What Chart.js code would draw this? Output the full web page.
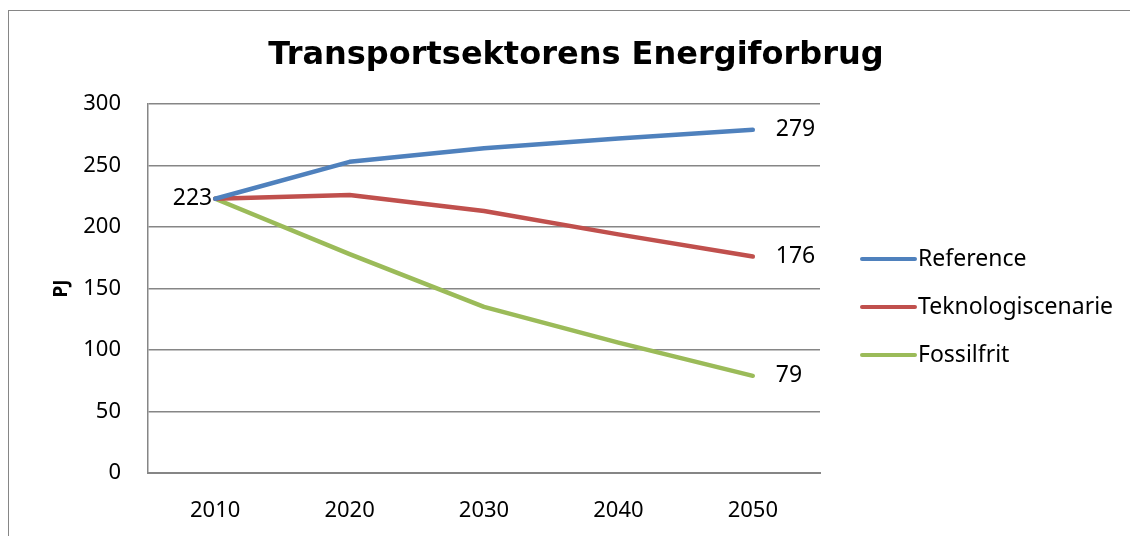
<!DOCTYPE html>
<html>
<head>
<meta charset="utf-8">
<script src="https://cdn.jsdelivr.net/npm/chart.js@4"></script>
<style>
  html, body { margin: 0; padding: 0; background: #fff; }
  #wrap { position: relative; width: 1130px; height: 536px; }
</style>
</head>
<body>
<div id="wrap"><canvas id="my-chart" width="1130" height="536"></canvas></div>
<script>
'use strict';

let years = ['2010', '2020', '2030', '2040', '2050'];
let seriesNames = ['Reference', 'Teknologiscenarie', 'Fossilfrit'];
let referenceValues = [223, 253, 264, 272, 279];
let teknologiValues = [223, 226, 213, 194, 176];
let fossilValues = [223, 178, 135, 106, 79];
let seriesColors = ['#4F81BD', '#C0504D', '#9BBB59'];
let chartTitle = 'Transportsektorens Energiforbrug';

let canvasElem = document.getElementById('my-chart');
let labelFont = '23px "Noto Sans"';

// box round the whole chart, title, value labels and legend on the right
let extrasPlugin = {
  id: 'extras',
  beforeDraw(chart) {
    let ctx = chart.ctx;
    ctx.save();
    ctx.strokeStyle = '#868686';
    ctx.lineWidth = 1;
    ctx.strokeRect(8.5, 10.5, 1200, 600);

    // title centred on the whole box, not just the plot
    ctx.font = 'bold 32px "DejaVu Sans"';
    ctx.fillStyle = '#000';
    ctx.textAlign = 'center';
    ctx.textBaseline = 'middle';
    ctx.fillText(chartTitle, 576, 56);
    ctx.restore();
  },
  afterDatasetsDraw(chart) {
    let ctx = chart.ctx;
    ctx.save();
    ctx.font = labelFont;
    ctx.fillStyle = '#000';
    ctx.textBaseline = 'middle';

    // first value on the left of the Reference line
    let first = chart.getDatasetMeta(0).data[0];
    ctx.textAlign = 'right';
    ctx.fillText(String(referenceValues[0]), first.x - 3, first.y);

    // last values on the right
    ctx.textAlign = 'left';
    chart.data.datasets.forEach(function (ds, i) {
      let pts = chart.getDatasetMeta(i).data;
      let last = pts[pts.length - 1];
      ctx.fillText(String(ds.data[ds.data.length - 1]), last.x + 23, last.y);
    });

    // legend
    let lx = 860;
    let ly = 259;
    chart.data.datasets.forEach(function (ds, i) {
      let y = ly + i * 48;
      ctx.strokeStyle = ds.borderColor;
      ctx.lineWidth = 4;
      ctx.lineCap = 'round';
      ctx.beginPath();
      ctx.moveTo(lx + 2, y);
      ctx.lineTo(lx + 55, y);
      ctx.stroke();
      ctx.fillStyle = '#000';
      ctx.fillText(ds.label, lx + 58, y);
    });
    ctx.restore();
  }
};

function renderChart() {
  let datasets = [referenceValues, teknologiValues, fossilValues].map(function (vals, i) {
    return {
      label: seriesNames[i],
      data: vals,
      borderColor: seriesColors[i],
      backgroundColor: seriesColors[i],
      borderWidth: 4.5,
      pointRadius: 0,
      tension: 0,
      borderCapStyle: 'round',
      borderJoinStyle: 'round'
    };
  });

  let chartObj = {
    type: 'line',
    data: { labels: years, datasets: datasets },
    plugins: [extrasPlugin],
    options: {
      responsive: false,
      animation: false,
      layout: { padding: { top: 104, right: 310, left: 0, bottom: 0 } },
      scales: {
        x: {
          offset: true,
          grid: { display: false, drawTicks: false },
          border: { color: '#868686', width: 2 },
          ticks: { color: '#000', font: { family: 'Noto Sans', size: 22 }, padding: 25 },
          afterFit: function (scale) { scale.height = 63; }
        },
        y: {
          min: 0,
          max: 300,
          ticks: { stepSize: 50, color: '#000', font: { family: 'Noto Sans', size: 22 }, padding: 27 },
          grid: { color: '#868686', lineWidth: 1.5, drawTicks: false },
          border: { color: '#868686', width: 1.5 },
          title: {
            display: true,
            text: 'PJ',
            color: '#000',
            font: { family: 'Noto Sans', size: 19, weight: 'bold' },
            padding: { top: 50, bottom: 0 }
          },
          afterFit: function (scale) { scale.width = 148; }
        }
      },
      plugins: {
        legend: { display: false },
        tooltip: { enabled: false },
        title: { display: false }
      }
    }
  };

  new Chart(canvasElem, chartObj); //eslint-disable-line
}

renderChart();
</script>
</body>
</html>
